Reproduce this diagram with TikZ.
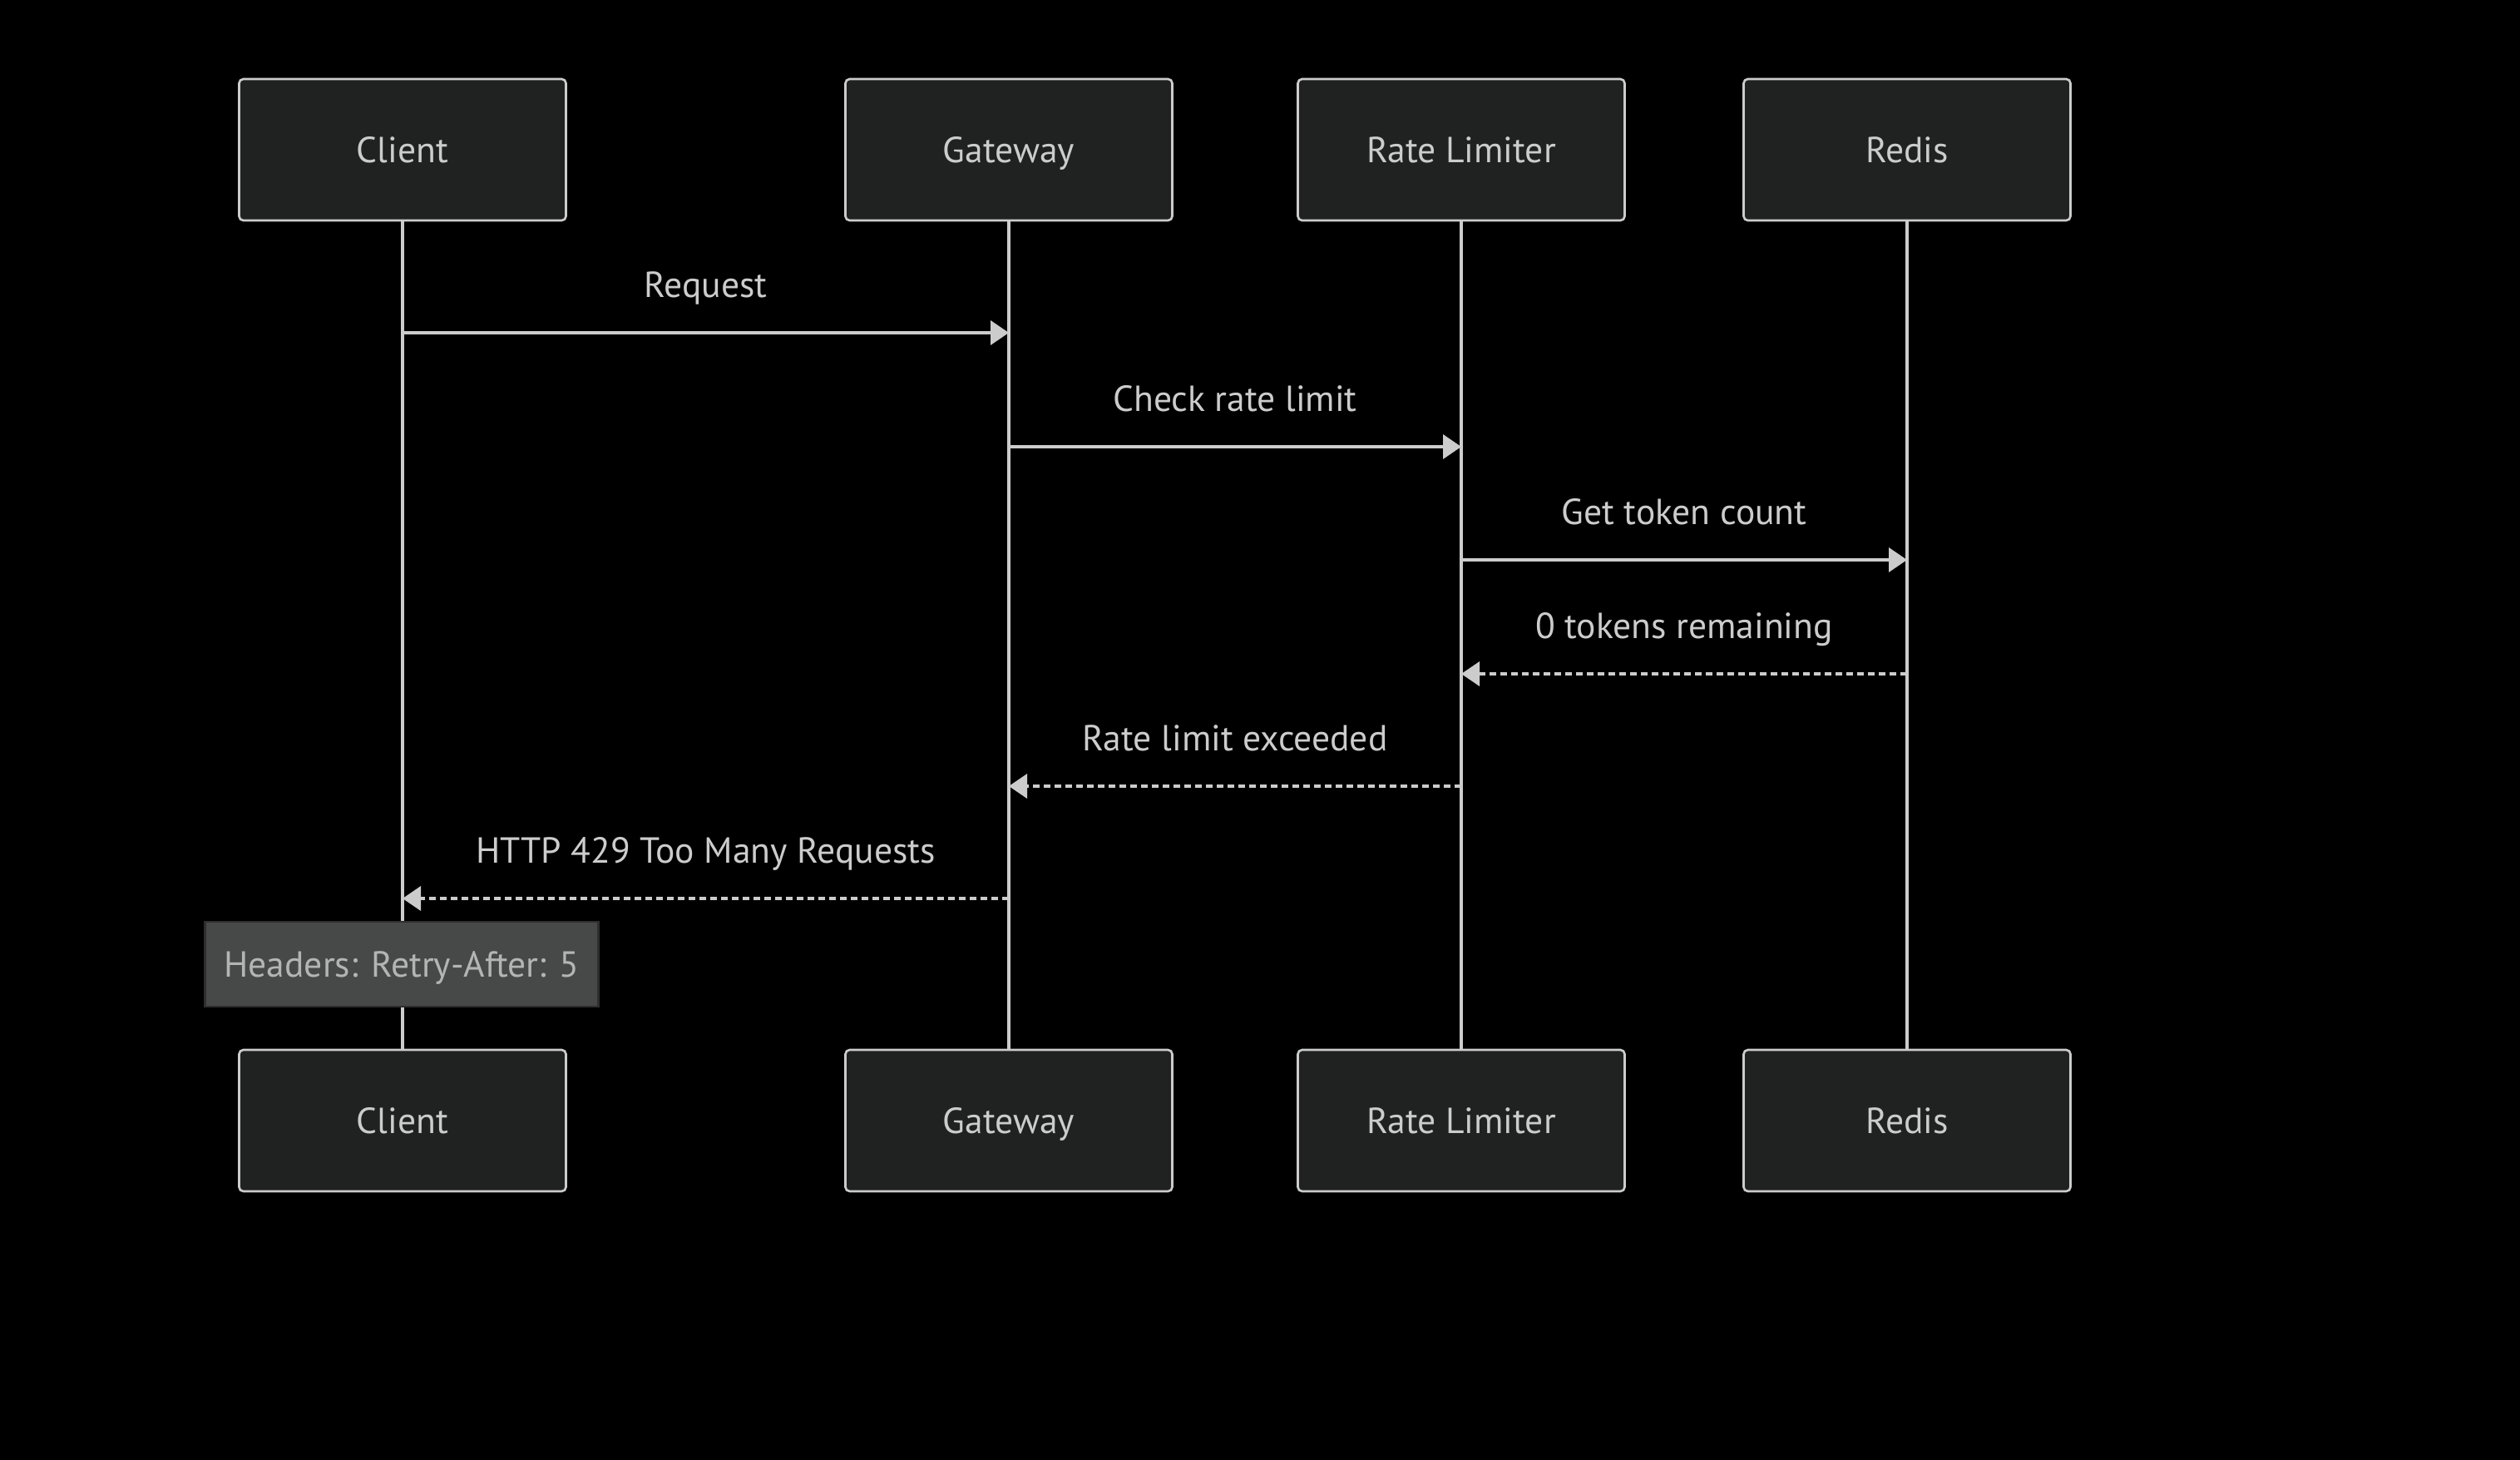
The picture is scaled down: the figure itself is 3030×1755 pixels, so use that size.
\documentclass[tikz,border=0pt]{standalone}
\usepackage{fontspec}
\setmainfont{PT Sans}
\usetikzlibrary{arrows.meta}

\definecolor{actorfill}{HTML}{202222}
\definecolor{linecol}{HTML}{CCCCCC}
\definecolor{notefill}{HTML}{474949}
\definecolor{noteline}{HTML}{2E2E2E}
\definecolor{notetext}{HTML}{B4B4B4}

\begin{document}
\begin{tikzpicture}[x=0.02cm, y=-0.02cm,
    actor/.style={draw=linecol, line width=1.5pt, fill=actorfill, rounded corners=0.1cm,
      minimum width=7.86cm, minimum height=3.4cm, text height=18pt, text depth=0pt,
      text=linecol, font=\fontsize{24.8}{30}\selectfont},
    lifeline/.style={draw=linecol, line width=2.6pt},
    call/.style={draw=linecol, line width=2.1pt, -{Triangle[length=0.44cm, width=0.58cm]}},
    reply/.style={call, dash pattern=on 0.16cm off 0.1cm},
    msglabel/.style={anchor=base, yshift=0.86cm, inner sep=0pt, text=linecol,
      font=\fontsize{24.8}{30}\selectfont},
    note/.style={draw=noteline, line width=1.5pt, fill=notefill, minimum width=9.46cm,
      minimum height=2.04cm, text height=18pt, text depth=0pt, text=notetext,
      font=\fontsize{24.8}{30}\selectfont}]

      % Page size and background
      \fill[black] (0,0) rectangle (3030,1755);

      % Participants, top and bottom row
      \foreach \name/\lbl/\xx in {client/Client/484, gateway/Gateway/1213,
          limiter/Rate Limiter/1757, redis/Redis/2293} {
        \node[actor] (\name-top) at (\xx,180) {\lbl};
        \node[actor] (\name-bot) at (\xx,1347) {\lbl};
      }

      % Lifelines
      \foreach \name in {client,gateway,limiter,redis} {
        \draw[lifeline] (\name-top) -- (\name-bot);
      }

      % Messages (source/target/height/text/kind)
      \foreach \src/\dst/\yy/\txt/\kind in {client/gateway/400/Request/call,
          gateway/limiter/537/Check rate limit/call,
          limiter/redis/673/Get token count/call,
          redis/limiter/810/0 tokens remaining/reply,
          limiter/gateway/945/Rate limit exceeded/reply,
          gateway/client/1080/HTTP 429 Too Many Requests/reply} {
        \coordinate (\src-\yy) at (\src-top |- 0,\yy);
        \coordinate (\dst-\yy) at (\dst-top |- 0,\yy);
        \draw[\kind] (\src-\yy) -- node[msglabel] {\txt} (\dst-\yy);
      }

      % Note over the client
      \node[note] (retry) at (483,1159) {Headers: Retry-After: 5};
    \end{tikzpicture}
\end{document}
